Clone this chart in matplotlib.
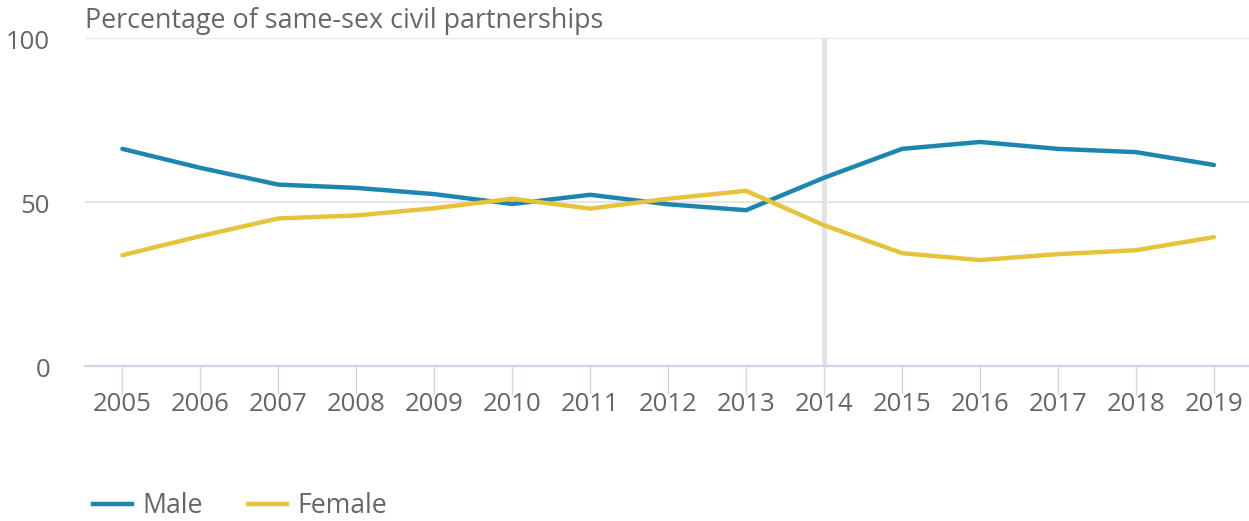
import matplotlib
matplotlib.use("Agg")
import matplotlib.pyplot as plt
from matplotlib.lines import Line2D
import matplotlib.transforms as mtrans

years = ["2005", "2006", "2007", "2008", "2009", "2010", "2011", "2012",
         "2013", "2014", "2015", "2016", "2017", "2018", "2019"]
male = [66.2, 60.4, 55.3, 54.3, 52.4, 49.4, 52.2, 49.3, 47.5, 57.4, 66.2, 68.3, 66.2, 65.2, 61.3]
female = [33.8, 39.6, 45.0, 45.9, 48.1, 51.0, 48.0, 51.0, 53.4, 42.9, 34.4, 32.3, 34.1, 35.3, 39.3]
yticks = [0, 50, 100]
series_names = ["Male", "Female"]
highlight_year = "2014"

plt.rcParams['font.family'] = ['Open Sans', 'DejaVu Sans']
TXT = '#666666'
C_MALE = '#1C86AE'
C_FEMALE = '#E6C33B'

fig = plt.figure(figsize=(12.49, 5.21), dpi=100)
ax = fig.add_axes([85/1249, 1-366/521, 1-85/1249, (366-38)/521])
x = list(range(len(years)))
ax.set_xlim(-0.48, len(years) - 1 + 0.45)
ax.set_ylim(0, 100)

for v in yticks[1:]:
    ax.axhline(v, color='#e6e6e6', lw=1.6, zorder=0)
ax.axvline(years.index(highlight_year), color='#e3e3e3', lw=3.5, zorder=0.5)

ax.plot(x, male, color=C_MALE, lw=3.2, solid_capstyle='round', solid_joinstyle='round', zorder=3)
ax.plot(x, female, color=C_FEMALE, lw=3.2, solid_capstyle='round', solid_joinstyle='round', zorder=3)

for s in ['top', 'right', 'left']:
    ax.spines[s].set_visible(False)
ax.spines['bottom'].set_color('#ccd6eb')
ax.spines['bottom'].set_linewidth(1.6)

ax.set_xticks(x)
ax.set_xticklabels(years)
ax.set_yticks(yticks)
ax.set_yticklabels([str(v) for v in yticks])
ax.tick_params(axis='x', colors='#ccd6eb', length=20, width=1, labelcolor=TXT, labelsize=18.5, pad=-1.5)
ax.tick_params(axis='y', length=0, labelcolor=TXT, labelsize=18.5, pad=25)
for lab in ax.get_yticklabels():
    lab.set_verticalalignment('center')
    lab.set_transform(lab.get_transform() + mtrans.ScaledTranslation(0, -4.5/100, fig.dpi_scale_trans))

fig.text(85/1249, 1-21/521, "Percentage of same-sex civil partnerships", color=TXT,
         fontsize=19.4, va='center', ha='left')

handles = [Line2D([0], [0], color=C_MALE, lw=3.2),
           Line2D([0], [0], color=C_FEMALE, lw=3.2)]
fig.legend(handles, series_names, loc='center left', bbox_to_anchor=(93/1249, 1-506/521),
           frameon=False, ncol=2, fontsize=19.2, labelcolor=TXT, handlelength=1.45,
           columnspacing=1.7, handletextpad=0.4, borderpad=0, borderaxespad=0)

fig.savefig("out.png", dpi=100)
